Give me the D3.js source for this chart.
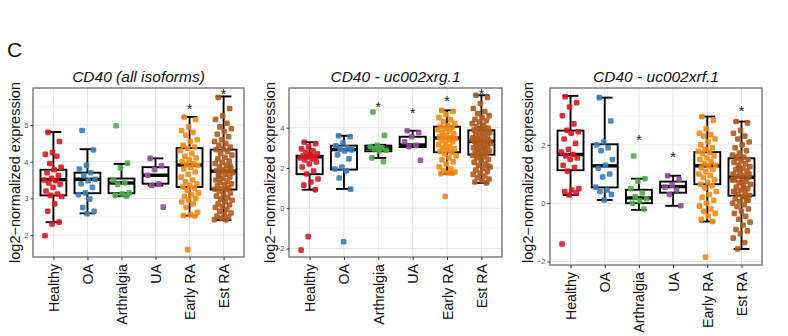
<!DOCTYPE html>
<html>
<head>
<meta charset="utf-8">
<script src="https://cdn.jsdelivr.net/npm/d3@7"></script>
<style>
  body { margin: 0; background: #fff; }
  svg { display: block; font-family: "Liberation Sans", Arial, sans-serif; }
</style>
</head>
<body>
<svg id="chart" width="788" height="336"></svg>
<script>
// Patient groups and their colours
const groups = ["Healthy", "OA", "Arthralgia", "UA", "Early RA", "Est RA"];
const groupColors = ["#dc1820", "#3a7db8", "#4fae48", "#974ea2", "#f5880f", "#b0591c"];

// Panel titles and y-axis ticks
const panelTitles = ["CD40 (all isoforms)", "CD40 - uc002xrg.1", "CD40 - uc002xrf.1"];
const yTicksAll = [2, 3, 4, 5];
const yTicksXrg = [-2, 0, 2, 4];
const yTicksXrf = [-2, 0, 2];
const yTitle = "log2\u2212normalized expression";

// Box statistics per group: [lower whisker, Q1, median, Q3, upper whisker]
const boxesAll = [
  [2.35, 3.08, 3.51, 3.78, 4.81],
  [2.59, 3.14, 3.52, 3.70, 4.34],
  [3.06, 3.14, 3.42, 3.54, 3.94],
  [3.35, 3.40, 3.63, 3.85, 4.09],
  [2.53, 3.31, 3.91, 4.37, 5.22],
  [2.41, 3.24, 3.74, 4.33, 5.78]
];
const boxesXrg = [
  [0.92, 1.69, 2.55, 2.61, 3.28],
  [0.96, 1.92, 2.91, 3.11, 3.60],
  [2.50, 2.83, 2.98, 3.11, 3.15],
  [3.04, 3.04, 3.14, 3.55, 3.85],
  [1.72, 2.78, 3.49, 4.05, 4.86],
  [1.26, 2.66, 3.32, 3.87, 5.61]
];
const boxesXrf = [
  [0.28, 1.13, 1.67, 2.49, 3.68],
  [0.11, 0.54, 1.28, 2.02, 3.62],
  [-0.23, 0.00, 0.18, 0.46, 0.84],
  [-0.09, 0.36, 0.57, 0.74, 0.94],
  [-0.63, 0.65, 1.28, 1.75, 2.97],
  [-1.57, 0.26, 0.89, 1.54, 2.80]
];

// Individual sample values per group
const pointsAll = [
  [4.80, 4.55, 4.25, 4.20, 4.15, 3.95, 3.85, 3.78, 3.70, 3.62, 3.55, 3.50, 3.48, 3.42, 3.38, 3.30, 3.20, 3.12, 3.08, 3.05, 2.85, 2.65, 2.35, 2.30, 1.98],
  [4.85, 4.32, 3.90, 3.80, 3.70, 3.62, 3.52, 3.48, 3.40, 3.30, 3.15, 3.10, 2.98, 2.75, 2.65, 2.58],
  [4.98, 3.96, 3.83, 3.50, 3.42, 3.38, 3.15, 3.12, 3.08, 3.06],
  [4.09, 3.89, 3.78, 3.63, 3.40, 3.35, 2.76],
  [5.22, 5.15, 4.95, 4.85, 4.80, 4.72, 4.60, 4.55, 4.45, 4.40, 4.36, 4.30, 4.22, 4.15, 4.10, 4.05, 4.00, 3.95, 3.92, 3.90, 3.85, 3.80, 3.72, 3.65, 3.58, 3.50, 3.45, 3.40, 3.35, 3.31, 3.28, 3.22, 3.15, 3.10, 3.05, 3.00, 2.95, 2.90, 2.85, 2.75, 2.62, 2.55, 2.53, 2.52, 1.60],
  [5.75, 5.45, 5.25, 5.15, 5.05, 4.95, 4.90, 4.82, 4.75, 4.68, 4.60, 4.55, 4.50, 4.45, 4.40, 4.35, 4.33, 4.28, 4.22, 4.18, 4.12, 4.08, 4.02, 3.98, 3.95, 3.90, 3.86, 3.82, 3.78, 3.76, 3.74, 3.72, 3.70, 3.66, 3.62, 3.58, 3.55, 3.50, 3.47, 3.44, 3.40, 3.37, 3.34, 3.30, 3.27, 3.25, 3.24, 3.20, 3.15, 3.10, 3.06, 3.02, 2.98, 2.95, 2.90, 2.85, 2.82, 2.78, 2.75, 2.70, 2.65, 2.60, 2.56, 2.52, 2.48, 2.45, 2.42, 2.41, 3.60, 3.88]
];
const pointsXrg = [
  [3.28, 3.20, 3.05, 2.95, 2.85, 2.78, 2.70, 2.65, 2.60, 2.58, 2.55, 2.50, 2.45, 2.40, 2.30, 2.20, 2.05, 1.85, 1.70, 1.45, 1.30, 1.15, 0.92, -1.41, -2.08],
  [3.60, 3.55, 3.25, 3.10, 3.00, 2.95, 2.90, 2.85, 2.65, 2.45, 2.05, 1.95, 1.85, 1.50, 0.95, -1.66],
  [4.78, 3.62, 3.12, 3.05, 3.00, 2.95, 2.88, 2.85, 2.50, 2.31],
  [3.85, 3.75, 3.55, 3.30, 3.12, 3.05, 2.38],
  [4.86, 4.80, 4.65, 4.50, 4.40, 4.30, 4.20, 4.10, 4.05, 4.00, 3.95, 3.90, 3.85, 3.75, 3.70, 3.62, 3.55, 3.50, 3.49, 3.45, 3.40, 3.35, 3.30, 3.20, 3.15, 3.05, 3.00, 2.95, 2.90, 2.82, 2.78, 2.70, 2.60, 2.50, 2.40, 2.30, 2.20, 2.05, 1.95, 1.85, 1.80, 1.75, 1.72, 1.74, 0.58],
  [5.61, 5.50, 5.20, 4.95, 4.80, 4.70, 4.60, 4.50, 4.42, 4.35, 4.28, 4.20, 4.12, 4.05, 3.98, 3.92, 3.88, 3.85, 3.80, 3.75, 3.70, 3.65, 3.60, 3.55, 3.50, 3.46, 3.42, 3.38, 3.35, 3.32, 3.30, 3.26, 3.22, 3.18, 3.14, 3.10, 3.05, 3.00, 2.95, 2.90, 2.85, 2.80, 2.75, 2.70, 2.66, 2.62, 2.55, 2.50, 2.42, 2.35, 2.28, 2.20, 2.12, 2.05, 1.98, 1.90, 1.82, 1.75, 1.68, 1.60, 1.52, 1.45, 1.38, 1.30, 1.26, 3.95, 3.40, 2.98, 2.60, 2.10]
];
const pointsXrf = [
  [3.65, 3.45, 3.30, 3.00, 2.72, 2.50, 2.45, 2.40, 2.20, 2.05, 1.85, 1.75, 1.67, 1.62, 1.55, 1.50, 1.30, 1.22, 1.10, 0.50, 0.45, 0.40, 0.35, 0.28, -1.40],
  [3.62, 2.82, 2.10, 2.00, 1.90, 1.80, 1.50, 1.30, 1.20, 1.00, 0.90, 0.55, 0.45, 0.40, 0.30, 0.11],
  [1.62, 0.84, 0.75, 0.50, 0.35, 0.22, 0.15, 0.08, 0.00, -0.20],
  [0.94, 0.82, 0.62, 0.55, 0.45, 0.30, -0.09],
  [2.97, 2.85, 2.55, 2.40, 2.35, 2.30, 2.20, 2.10, 2.00, 1.90, 1.85, 1.78, 1.75, 1.70, 1.62, 1.55, 1.50, 1.42, 1.35, 1.30, 1.28, 1.22, 1.15, 1.08, 1.00, 0.95, 0.88, 0.80, 0.72, 0.65, 0.60, 0.52, 0.40, 0.30, 0.20, 0.10, 0.00, -0.10, -0.20, -0.28, -0.35, -0.45, -0.55, -0.63, -1.85],
  [2.80, 2.75, 2.50, 2.40, 2.30, 2.20, 2.10, 2.00, 1.90, 1.80, 1.72, 1.65, 1.58, 1.54, 1.50, 1.45, 1.40, 1.35, 1.30, 1.25, 1.20, 1.15, 1.10, 1.05, 1.00, 0.96, 0.92, 0.89, 0.85, 0.80, 0.75, 0.70, 0.65, 0.60, 0.55, 0.50, 0.45, 0.40, 0.35, 0.30, 0.26, 0.22, 0.15, 0.10, 0.05, 0.00, -0.05, -0.12, -0.20, -0.28, -0.35, -0.45, -0.55, -0.65, -0.75, -0.90, -0.95, -1.05, -1.20, -1.35, -1.57, 1.00, 0.70, 0.40, 0.20, 1.20, 0.80, 0.50, 1.60, 0.10]
];

// Significance markers: [group index, height]
const starsAll = [[4, 5.48], [5, 5.90]];
const starsXrg = [[2, 5.14], [3, 4.81], [4, 5.44], [5, 5.77]];
const starsXrf = [[2, 2.23], [3, 1.66], [5, 3.22]];

// Panel frames and visible y ranges
const panels = [
  { title: panelTitles[0], ticks: yTicksAll, boxes: boxesAll, points: pointsAll, stars: starsAll,
    left: 33, right: 244, top: 88, bottom: 257, yDomain: [1.40, 6.01], titleX: 15 },
  { title: panelTitles[1], ticks: yTicksXrg, boxes: boxesXrg, points: pointsXrg, stars: starsXrg,
    left: 289, right: 502, top: 88, bottom: 257, yDomain: [-2.42, 5.97], titleX: 270 },
  { title: panelTitles[2], ticks: yTicksXrf, boxes: boxesXrf, points: pointsXrf, stars: starsXrf,
    left: 550, right: 762, top: 88, bottom: 265, yDomain: [-2.12, 3.95], titleX: 528 }
];

const svg = d3.select("#chart");

svg.append("text")
  .attr("x", 7).attr("y", 57)
  .attr("font-size", 21)
  .attr("fill", "#111")
  .text("C");

// deterministic horizontal spread for the sample dots
const spread = i => ((i * 0.6180339887 + 0.21) % 1) - 0.5;

panels.forEach(p => {
  const g = svg.append("g");
  const x = d3.scalePoint().domain(groups).range([p.left, p.right]).padding(0.6);
  const y = d3.scaleLinear().domain(p.yDomain).range([p.bottom, p.top]);
  const step = x.step();
  const boxW = step * 0.76;
  const capW = step * 0.46;

  // minor grid between major ticks
  const t0 = p.ticks[0], dt = p.ticks[1] - p.ticks[0];
  const minor = d3.range(t0 - dt / 2, p.yDomain[1], dt).filter(v => v > p.yDomain[0]);
  g.selectAll(".minor").data(minor).join("line")
    .attr("x1", p.left).attr("x2", p.right)
    .attr("y1", d => y(d)).attr("y2", d => y(d))
    .attr("stroke", "#f3f3f3").attr("stroke-width", 0.6);

  // major grid
  g.selectAll(".hgrid").data(p.ticks).join("line")
    .attr("x1", p.left).attr("x2", p.right)
    .attr("y1", d => y(d)).attr("y2", d => y(d))
    .attr("stroke", "#e6e6e6").attr("stroke-width", 1);
  g.selectAll(".vgrid").data(groups).join("line")
    .attr("x1", d => x(d)).attr("x2", d => x(d))
    .attr("y1", p.top).attr("y2", p.bottom)
    .attr("stroke", "#e6e6e6").attr("stroke-width", 1);

  // boxes with whiskers
  p.boxes.forEach((b, i) => {
    const cx = x(groups[i]);
    const [lo, q1, med, q3, hi] = b;
    const bg = g.append("g").attr("stroke", "#000").attr("fill", "none");
    bg.append("line").attr("x1", cx).attr("x2", cx).attr("y1", y(q3)).attr("y2", y(hi)).attr("stroke-width", 1.9);
    bg.append("line").attr("x1", cx).attr("x2", cx).attr("y1", y(q1)).attr("y2", y(lo)).attr("stroke-width", 1.9);
    bg.append("line").attr("x1", cx - capW / 2).attr("x2", cx + capW / 2).attr("y1", y(hi)).attr("y2", y(hi)).attr("stroke-width", 1.9);
    bg.append("line").attr("x1", cx - capW / 2).attr("x2", cx + capW / 2).attr("y1", y(lo)).attr("y2", y(lo)).attr("stroke-width", 1.9);
    bg.append("rect")
      .attr("x", cx - boxW / 2).attr("width", boxW)
      .attr("y", y(q3)).attr("height", y(q1) - y(q3))
      .attr("stroke-width", 1.9);
    bg.append("line").attr("x1", cx - boxW / 2).attr("x2", cx + boxW / 2).attr("y1", y(med)).attr("y2", y(med)).attr("stroke-width", 3.4);
  });

  // sample dots
  p.points.forEach((vals, i) => {
    const cx = x(groups[i]);
    g.append("g").selectAll("rect").data(vals).join("rect")
      .attr("x", (d, k) => cx + spread(k) * step * 0.54 - 2.8)
      .attr("y", d => y(d) - 2.8)
      .attr("width", 5.6).attr("height", 5.6)
      .attr("rx", 1.4)
      .attr("fill", groupColors[i])
      .attr("opacity", 0.9);
  });

  // significance asterisks
  g.selectAll(".star").data(p.stars).join("text")
    .attr("x", d => x(groups[d[0]]))
    .attr("y", d => y(d[1]) + 7)
    .attr("text-anchor", "middle")
    .attr("font-size", 14)
    .attr("fill", "#222")
    .text("*");

  // panel border
  g.append("rect")
    .attr("x", p.left).attr("y", p.top)
    .attr("width", p.right - p.left).attr("height", p.bottom - p.top)
    .attr("fill", "none").attr("stroke", "#6e6e6e").attr("stroke-width", 1.3);

  // y axis
  const yAxis = g.append("g")
    .attr("transform", `translate(${p.left},0)`)
    .call(d3.axisLeft(y).tickValues(p.ticks).tickSize(2.5).tickPadding(2).tickFormat(d3.format("d")));
  yAxis.select(".domain").remove();
  yAxis.selectAll("line").attr("stroke", "#333");
  yAxis.selectAll("text").attr("font-size", 7.5).attr("fill", "#4d4d4d")
    .attr("font-family", "'Liberation Sans', Arial, sans-serif");

  // x axis with rotated labels
  const xAxis = g.append("g")
    .attr("transform", `translate(0,${p.bottom})`)
    .call(d3.axisBottom(x).tickSize(3).tickPadding(4));
  xAxis.select(".domain").remove();
  xAxis.selectAll("line").attr("stroke", "#333");
  xAxis.selectAll("text")
    .attr("font-size", 14.2).attr("fill", "#111")
    .attr("font-family", "'Liberation Sans', Arial, sans-serif")
    .attr("transform", "rotate(-90)")
    .attr("text-anchor", "end")
    .attr("x", -7).attr("y", 0).attr("dy", "0.35em");

  // panel title
  g.append("text")
    .attr("x", (p.left + p.right) / 2).attr("y", 82)
    .attr("text-anchor", "middle")
    .attr("font-size", 15.5).attr("font-style", "italic")
    .attr("fill", "#111")
    .text(p.title);

  // y axis title
  g.append("text")
    .attr("transform", `translate(${p.titleX},${(p.top + 257) / 2}) rotate(-90)`)
    .attr("text-anchor", "middle")
    .attr("dy", "0.35em")
    .attr("font-size", 14.5).attr("fill", "#111")
    .text(yTitle);
});
</script>
</body>
</html>
